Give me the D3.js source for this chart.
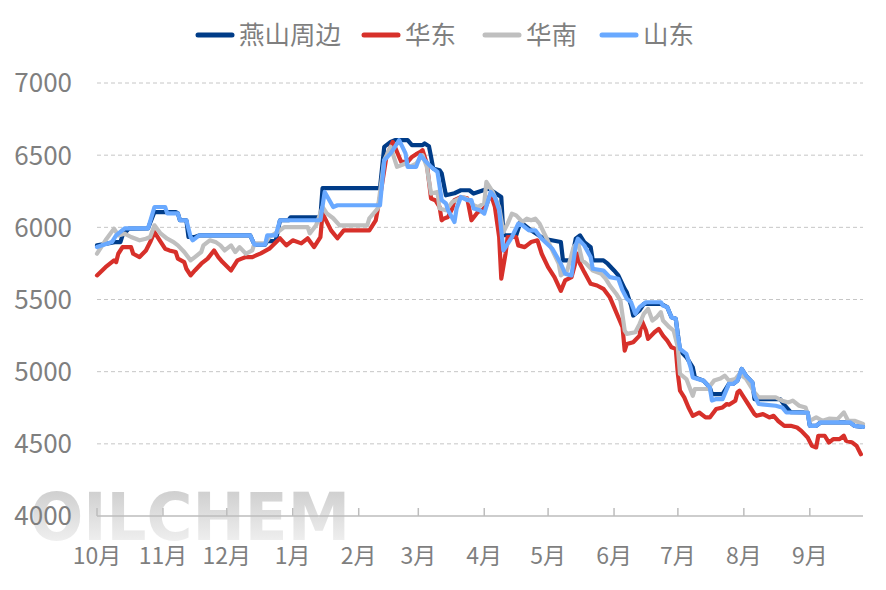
<!DOCTYPE html>
<html><head><meta charset="utf-8">
<script src="https://cdn.jsdelivr.net/npm/d3@7/dist/d3.min.js"></script>
<style>html,body{margin:0;padding:0;background:#fff;}svg{display:block;}</style>
</head><body><div id="chart"></div>
<script>
const seriesNames = ["燕山周边", "华东", "华南", "山东"];
const seriesColors = ["#003c88", "#d7302a", "#bfbfbf", "#69a9ff"];
const monthLabels = ["10月","11月","12月","1月","2月","3月","4月","5月","6月","7月","8月","9月"];
const yTicks = [4000, 4500, 5000, 5500, 6000, 6500, 7000];
const startDate = "2022-10-01";
const endDate = "2023-09-26";

// [days since startDate, price]
const yanshan = [[0,5875],[9,5898],[11,5898],[12,5944],[15,5991],[24,5993],[27,6106],[37,6106],[38,6097],[39,6049],[42,6049],[43,5933],[46,5933],[48,5944],[72,5944],[74,5880],[79,5880],[80,5905],[84,5905],[86,6049],[90,6049],[91,6070],[105,6070],[106,6271],[133,6271],[135,6558],[138,6592],[140,6604],[146,6604],[148,6569],[153,6569],[154,6581],[156,6562],[157,6488],[158,6408],[161,6396],[162,6373],[164,6222],[168,6236],[171,6257],[175,6257],[177,6234],[184,6269],[190,6210],[191,5945],[197,5945],[199,6037],[204,5979],[210,5921],[218,5898],[219,5771],[223,5771],[225,5921],[227,5944],[229,5898],[232,5863],[233,5771],[238,5771],[240,5748],[243,5701],[245,5667],[248,5574],[249,5549],[251,5458],[252,5389],[255,5424],[257,5470],[265,5470],[268,5447],[270,5377],[272,5366],[274,5146],[277,5100],[280,5030],[281,4960],[285,4938],[288,4891],[289,4845],[294,4845],[297,4915],[299,4915],[301,4938],[303,5019],[305,4972],[308,4926],[309,4810],[321,4810],[323,4770],[326,4720],[334,4717],[335,4625],[338,4625],[340,4648],[354,4648],[356,4625],[360,4618]];
const huadong = [[0,5667],[4,5724],[8,5771],[9,5759],[10,5817],[12,5863],[16,5863],[17,5817],[20,5794],[23,5840],[25,5898],[27,5967],[30,5898],[32,5852],[34,5840],[37,5829],[38,5783],[41,5759],[42,5713],[44,5667],[46,5701],[49,5748],[52,5783],[55,5840],[57,5794],[59,5759],[63,5701],[66,5771],[68,5783],[70,5794],[73,5794],[77,5820],[81,5852],[86,5924],[89,5875],[92,5910],[96,5889],[99,5924],[102,5863],[105,5933],[106,6097],[110,5979],[113,5924],[116,5979],[128,5979],[131,6049],[133,6210],[136,6488],[139,6592],[143,6453],[146,6453],[148,6488],[150,6507],[152,6523],[153,6535],[155,6442],[157,6199],[159,6188],[161,6141],[162,6049],[163,6060],[165,6072],[167,6132],[168,6188],[171,6210],[174,6201],[176,6049],[179,6106],[181,6118],[183,6153],[185,6234],[187,6141],[189,5933],[190,5644],[192,5817],[193,5933],[197,5933],[198,5875],[201,5863],[204,5898],[207,5910],[209,5817],[212,5724],[215,5655],[218,5560],[220,5632],[223,5655],[226,5817],[227,5748],[229,5690],[232,5609],[235,5597],[238,5574],[241,5516],[243,5447],[245,5377],[247,5308],[248,5146],[249,5192],[252,5204],[255,5250],[256,5354],[258,5285],[259,5227],[262,5273],[264,5296],[266,5250],[268,5215],[270,5169],[272,5158],[273,4984],[274,4868],[276,4822],[278,4752],[280,4694],[283,4717],[286,4683],[288,4683],[291,4741],[294,4752],[296,4776],[297,4771],[300,4799],[301,4856],[302,4868],[304,4822],[306,4776],[309,4706],[310,4694],[313,4706],[316,4683],[318,4694],[320,4660],[323,4625],[326,4625],[329,4613],[331,4590],[334,4544],[336,4486],[338,4475],[339,4556],[342,4556],[344,4509],[346,4533],[349,4533],[351,4556],[352,4521],[355,4509],[357,4486],[359,4428]];
const huanan = [[0,5817],[4,5910],[8,5991],[10,5944],[13,5956],[16,5933],[20,5910],[23,5921],[25,5933],[27,6014],[30,5956],[33,5921],[36,5898],[38,5875],[41,5829],[44,5771],[46,5794],[49,5829],[50,5875],[53,5910],[56,5896],[58,5875],[60,5840],[63,5875],[65,5829],[67,5863],[70,5817],[73,5840],[74,5889],[79,5889],[81,5933],[86,5979],[88,6002],[99,6002],[100,5958],[103,6014],[106,6141],[108,6097],[111,6063],[114,6014],[127,6014],[128,6063],[132,6132],[135,6465],[138,6558],[141,6419],[145,6442],[147,6419],[150,6442],[153,6500],[155,6419],[157,6234],[160,6245],[161,6130],[164,6118],[167,6176],[172,6210],[175,6188],[177,6153],[179,6141],[182,6167],[183,6315],[186,6245],[189,6141],[191,5967],[193,6026],[195,6095],[197,6083],[200,6037],[202,6060],[204,6049],[206,6060],[208,6026],[211,5933],[214,5840],[217,5748],[218,5667],[221,5701],[224,5863],[226,5898],[228,5771],[230,5748],[233,5701],[237,5678],[239,5644],[241,5597],[244,5540],[246,5493],[248,5285],[249,5262],[253,5273],[255,5331],[257,5401],[259,5435],[261,5354],[263,5377],[265,5412],[266,5354],[269,5308],[271,5285],[273,5169],[274,4984],[277,4949],[280,4833],[281,4880],[287,4880],[290,4938],[293,4952],[295,4972],[297,4938],[300,4949],[302,4984],[305,4952],[309,4856],[311,4822],[319,4822],[322,4799],[325,4787],[327,4799],[330,4764],[333,4752],[335,4660],[338,4683],[341,4660],[344,4674],[348,4671],[351,4718],[353,4660],[356,4660],[360,4637]];
const shandong = [[0,5863],[7,5898],[9,5944],[13,5993],[24,5993],[27,6141],[32,6141],[33,6097],[38,6097],[39,6049],[42,6049],[44,5933],[45,5910],[48,5944],[72,5944],[74,5880],[79,5880],[80,5944],[84,5944],[86,6049],[105,6049],[107,6245],[111,6141],[113,6153],[133,6153],[135,6465],[138,6512],[140,6558],[142,6604],[145,6512],[146,6419],[150,6419],[152,6500],[154,6465],[157,6419],[160,6384],[162,6188],[164,6165],[165,6118],[168,6037],[169,6130],[171,6210],[174,6188],[176,6188],[177,6130],[180,6118],[182,6095],[185,6245],[187,6210],[189,6120],[191,5840],[192,5863],[195,5933],[198,6026],[200,6014],[203,5979],[206,5979],[209,5921],[214,5852],[218,5748],[220,5679],[223,5667],[225,5875],[226,5921],[229,5875],[232,5794],[233,5713],[238,5701],[241,5655],[245,5644],[247,5563],[249,5505],[251,5481],[253,5401],[255,5447],[258,5481],[265,5481],[266,5458],[268,5447],[270,5377],[272,5366],[273,5250],[274,5158],[277,5123],[279,5030],[280,4960],[285,4938],[288,4891],[289,4800],[291,4810],[294,4810],[297,4915],[299,4915],[301,4938],[303,5019],[305,4972],[308,4926],[309,4833],[311,4776],[319,4764],[322,4752],[324,4717],[334,4717],[335,4625],[338,4625],[340,4648],[354,4648],[356,4625],[360,4618]];
const seriesData = [yanshan, huadong, huanan, shandong];

const W = 886, H = 590;
const svg = d3.select("#chart").append("svg").attr("width", W).attr("height", H);
const parse = d3.timeParse("%Y-%m-%d");
const t0 = parse(startDate), t1 = parse(endDate);
const x = d3.scaleTime().domain([t0, t1]).range([97, 863]);
const y = d3.scaleLinear().domain([4000, 7000]).range([516, 83]);
const font = "'Noto Sans CJK SC', 'Noto Sans', sans-serif";
const textColor = "#7f7f7f";

// watermark
const defs = svg.append("defs");
const grad = defs.append("linearGradient").attr("id", "wm").attr("x1", 0).attr("y1", 0).attr("x2", 0).attr("y2", 1);
grad.append("stop").attr("offset", "0%").attr("stop-color", "#c8c8c8");
grad.append("stop").attr("offset", "100%").attr("stop-color", "#f8f8f8");
svg.append("text").attr("x", 30).attr("y", 540)
  .attr("font-family", "'DejaVu Sans', sans-serif").attr("font-weight", "bold")
  .attr("font-size", 66).attr("textLength", 320).attr("lengthAdjust", "spacingAndGlyphs")
  .attr("fill", "url(#wm)").text("OILCHEM");

// gridlines
svg.append("g").selectAll("line").data(yTicks.filter(v => v > 4000)).join("line")
  .attr("x1", 97).attr("x2", 863).attr("y1", d => y(d)).attr("y2", d => y(d))
  .attr("stroke", "#c6c6c6").attr("stroke-width", 1).attr("stroke-dasharray", "4,3");

// y labels
svg.append("g").selectAll("text").data(yTicks).join("text")
  .attr("x", 72).attr("y", d => y(d)).attr("dy", "0.36em").attr("text-anchor", "end")
  .attr("font-family", font).attr("font-size", 26).attr("fill", textColor).text(d => d);

// x axis
const months = d3.timeMonth.range(t0, t1);
svg.append("line").attr("x1", 97).attr("x2", 863).attr("y1", 516).attr("y2", 516)
  .attr("stroke", "#bdbdbd").attr("stroke-width", 1.5);
svg.append("g").selectAll("line").data(months).join("line")
  .attr("x1", d => x(d)).attr("x2", d => x(d)).attr("y1", 516).attr("y2", 508)
  .attr("stroke", "#bdbdbd").attr("stroke-width", 1.5);
svg.append("g").selectAll("text").data(months).join("text")
  .attr("x", d => x(d)).attr("y", 564).attr("text-anchor", "middle")
  .attr("font-family", font).attr("font-size", 23).attr("fill", textColor)
  .text((d, i) => monthLabels[i]);

// lines
const line = d3.line().x(d => x(d3.timeDay.offset(t0, d[0]))).y(d => y(d[1]));
svg.append("g").selectAll("path").data(seriesData).join("path")
  .attr("d", d => line(d)).attr("fill", "none")
  .attr("stroke", (d, i) => seriesColors[i]).attr("stroke-width", 4.2)
  .attr("stroke-linejoin", "round").attr("stroke-linecap", "round");

// legend
const legendX = [196, 362, 483, 600];
const lg = svg.append("g").selectAll("g").data(seriesNames).join("g")
  .attr("transform", (d, i) => `translate(${legendX[i]},35)`);
lg.append("line").attr("x1", 2).attr("x2", 36).attr("y1", 0).attr("y2", 0)
  .attr("stroke", (d, i) => seriesColors[i]).attr("stroke-width", 5).attr("stroke-linecap", "round");
lg.append("text").attr("x", 43).attr("y", 0).attr("dy", "0.36em")
  .attr("font-family", font).attr("font-size", 25.5).attr("fill", textColor).text(d => d);
</script></body></html>
